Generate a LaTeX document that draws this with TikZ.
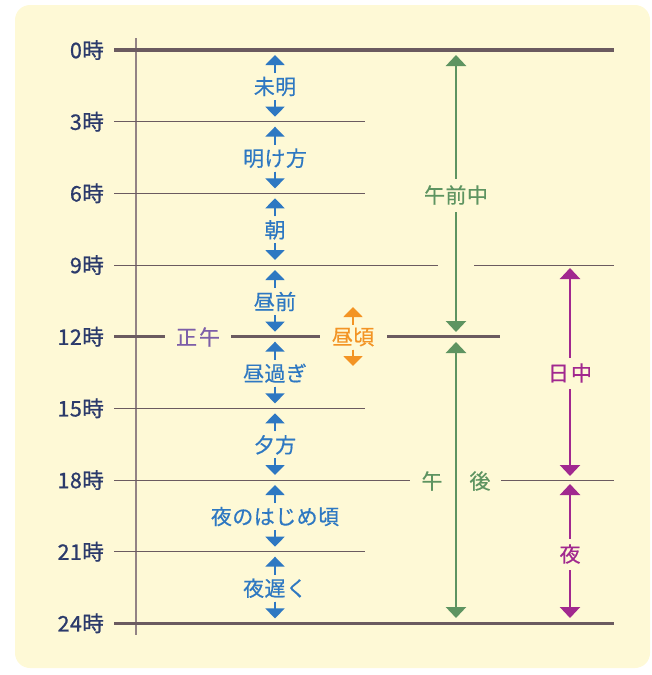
\documentclass[tikz,border=0pt]{standalone}
\usepackage{fontspec}
\setmainfont{Noto Sans CJK JP}
\usetikzlibrary{arrows.meta}
\definecolor{bg}{HTML}{FEF9D6}
\definecolor{navy}{HTML}{2B3A6B}
\definecolor{tblue}{HTML}{2E78C2}
\definecolor{torange}{HTML}{F39424}
\definecolor{tgreen}{HTML}{5E9461}
\definecolor{tmag}{HTML}{A1288F}
\definecolor{tpurple}{HTML}{7D5EA8}
\definecolor{lineC}{HTML}{6B5B60}
\definecolor{axisC}{HTML}{938385}
\tikzset{
  thickline/.style={draw=lineC, line width=3.2pt},
  thinline/.style={draw=lineC, line width=1pt},
  hourlabel/.style={anchor=east, text=navy, inner sep=0pt, font=\fontsize{21.5}{22}\selectfont\addfontfeatures{LetterSpace=2,FakeBold=0.8}},
  lab/.style={inner sep=0pt, font=\fontsize{21}{22}\selectfont\addfontfeatures{LetterSpace=2,FakeBold=0.5}},
  tri/.style={-{Triangle[width=19pt,length=10pt]}},
  barrow/.style={tri, draw=tblue, fill=tblue, line width=2pt},
  oarrow/.style={tri, draw=torange, fill=torange, line width=2pt},
  garrow/.style={{Triangle[width=20pt,length=11pt]}-{Triangle[width=20pt,length=11pt]}, draw=tgreen, line width=2.6pt},
  marrow/.style={{Triangle[width=20pt,length=11pt]}-{Triangle[width=20pt,length=11pt]}, draw=tmag, line width=2.4pt},
}
\begin{document}
\begin{tikzpicture}[x=1pt,y=-1pt]
\useasboundingbox (0,0) rectangle (652,675);
\fill[bg, rounded corners=15pt] (15,5) rectangle (650,668);
% axis
\draw[draw=axisC, line width=1.2pt] (136,38) -- (136,635);
% hour lines
\draw[thickline] (114,50) -- (614,50);
\draw[thinline] (114,121.7) -- (365,121.7);
\draw[thinline] (114,193.3) -- (365,193.3);
\draw[thinline] (114,265) -- (438,265);
\draw[thinline] (474,265) -- (614,265);
\draw[thickline] (114,336.7) -- (165,336.7);
\draw[thickline] (231,336.7) -- (320,336.7);
\draw[thickline] (387,336.7) -- (500,336.7);
\draw[thinline] (114,408.3) -- (365,408.3);
\draw[thinline] (114,480) -- (410,480);
\draw[thinline] (501,480) -- (614,480);
\draw[thinline] (114,551.7) -- (365,551.7);
\draw[thickline] (114,623.3) -- (614,623.3);
% hour labels
\foreach \h/\y in {0/50,3/121.7,6/193.3,9/265,12/336.7,15/408.3,18/480,21/551.7,24/623.3}{
  \node[hourlabel] (h\h) at (104,\y) {\h 時};
}
% blue periods
\foreach \i/\a/\t in {1/50/未明,2/121.7/明け方,3/193.3/朝,4/265/昼前,5/336.7/昼過ぎ,6/408.3/夕方,7/480/夜のはじめ頃,8/551.7/夜遅く}{
  \node[lab, text=tblue] (b\i) at (275,\a+36.5) {\t};
  \coordinate (bt\i) at (275,\a+5);
  \coordinate (bb\i) at (275,\a+66.7);
  \draw[barrow] ([yshift=13.5pt]b\i.center) -- (bt\i);
  \draw[barrow] ([yshift=-13.5pt]b\i.center) -- (bb\i);
}
% noon
\node[lab, text=tpurple] (shogo) at (198,337) {正\hspace{2pt}午};
\node[lab, text=torange] (hirugoro) at (353,337) {昼頃};
\coordinate (ot) at (353,307);
\coordinate (ob) at (353,366);
\draw[oarrow] ([yshift=12.5pt]hirugoro.center) -- (ot);
\draw[oarrow] ([yshift=-12.5pt]hirugoro.center) -- (ob);
% green
\coordinate (g0) at (456,55);
\coordinate (g12a) at (456,332);
\coordinate (g12b) at (456,342);
\coordinate (g24) at (456,618);
\draw[garrow] (g0) -- (g12a);
\draw[garrow] (g12b) -- (g24);
\node[lab, text=tgreen, fill=bg, inner xsep=2pt, minimum height=33pt] (gozen) at (456,195) {午前中};
\node[lab, text=tgreen] (go1) at (432,481) {午};
\node[lab, text=tgreen] (go2) at (480,481) {後};
% magenta
\coordinate (m9) at (570,268);
\coordinate (m18a) at (570,476);
\coordinate (m18b) at (570,484);
\coordinate (m24) at (570,618);
\draw[marrow] (m9) -- (m18a);
\draw[marrow] (m18b) -- (m24);
\node[lab, text=tmag, fill=bg, inner xsep=2pt, minimum height=31pt] (nitchu) at (570,373) {日\hspace{2pt}中};
\node[lab, text=tmag, fill=bg, inner xsep=2pt, minimum height=31pt] (yoru) at (570,554) {夜};
\end{tikzpicture}
\end{document}
